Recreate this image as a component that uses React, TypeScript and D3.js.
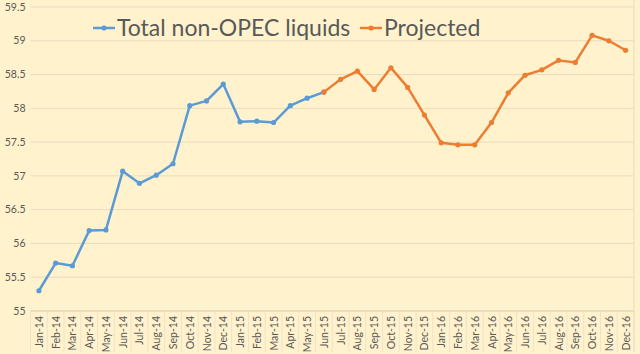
import { useEffect, useRef } from "react";
import * as d3 from "d3";

// Month labels along the x axis
const months = [
  "Jan-14", "Feb-14", "Mar-14", "Apr-14", "May-14", "Jun-14", "Jul-14", "Aug-14", "Sep-14", "Oct-14", "Nov-14", "Dec-14",
  "Jan-15", "Feb-15", "Mar-15", "Apr-15", "May-15", "Jun-15", "Jul-15", "Aug-15", "Sep-15", "Oct-15", "Nov-15", "Dec-15",
  "Jan-16", "Feb-16", "Mar-16", "Apr-16", "May-16", "Jun-16", "Jul-16", "Aug-16", "Sep-16", "Oct-16", "Nov-16", "Dec-16",
];

// Total non-OPEC liquids, Jan-14 .. Jun-15
const nonOpecValues = [
  55.3, 55.71, 55.67, 56.19, 56.2, 57.07, 56.89, 57.01, 57.18, 58.04, 58.11, 58.36,
  57.8, 57.81, 57.79, 58.04, 58.15, 58.24,
];

// Projected, Jun-15 .. Dec-16
const projectedValues = [
  58.24, 58.43, 58.55, 58.28, 58.6, 58.31, 57.9,
  57.49, 57.46, 57.46, 57.79, 58.23, 58.49, 58.57, 58.71, 58.68, 59.08, 59.0, 58.86,
];
const projectedStart = 17;

const yTicks = [55, 55.5, 56, 56.5, 57, 57.5, 58, 58.5, 59, 59.5];

const width = 640;
const height = 354;
const margin = { top: 7, right: 6, bottom: 43, left: 30.5 };
const blue = "#5B9BD5";
const orange = "#ED7D31";
const textColor = "#595959";
const font = "Lato, 'Open Sans', sans-serif";

function Chart() {
  const svgRef = useRef<SVGSVGElement>(null);

  useEffect(() => {
    const svg = d3.select(svgRef.current);
    svg.selectAll("*").remove();

    svg.append("rect").attr("width", width).attr("height", height).attr("fill", "#FFF2CC");

    const x = d3.scaleBand().domain(months).range([margin.left, width - margin.right]).padding(0);
    const cx = (m: string) => (x(m) as number) + x.bandwidth() / 2;
    const y = d3.scaleLinear().domain([55, 59.5]).range([height - margin.bottom, margin.top]);

    // gridlines
    svg.append("g")
      .selectAll("line")
      .data(yTicks)
      .enter()
      .append("line")
      .attr("x1", margin.left)
      .attr("x2", width - margin.right)
      .attr("y1", (d) => y(d))
      .attr("y2", (d) => y(d))
      .attr("stroke", "#E8DCC0")
      .attr("stroke-width", 1);

    // right edge of the plot area
    svg.append("line")
      .attr("x1", width - margin.right).attr("x2", width - margin.right)
      .attr("y1", 0).attr("y2", height - 2)
      .attr("stroke", "#E8DCC0");

    // y axis labels
    svg.append("g")
      .selectAll("text")
      .data(yTicks)
      .enter()
      .append("text")
      .attr("x", margin.left - 5)
      .attr("y", (d) => y(d))
      .attr("dy", "0.35em")
      .attr("text-anchor", "end")
      .attr("font-family", font)
      .attr("font-size", 10.5)
      .attr("fill", textColor)
      .text((d) => d3.format("")(d));

    // x axis line + tick marks between categories
    const base = y(55);
    svg.append("line")
      .attr("x1", margin.left).attr("x2", width - margin.right)
      .attr("y1", base).attr("y2", base)
      .attr("stroke", "#E0D4B8");
    svg.append("g")
      .selectAll("line")
      .data(months.concat(["end"]))
      .enter()
      .append("line")
      .attr("x1", (_, i) => margin.left + i * x.bandwidth())
      .attr("x2", (_, i) => margin.left + i * x.bandwidth())
      .attr("y1", base)
      .attr("y2", height - 2)
      .attr("stroke", "#EFE3C8");

    // x axis labels, rotated
    svg.append("g")
      .selectAll("text")
      .data(months)
      .enter()
      .append("text")
      .attr("transform", (d) => `translate(${cx(d) + 4},${base + 5}) rotate(-90)`)
      .attr("text-anchor", "end")
      .attr("font-family", font)
      .attr("font-size", 10.5)
      .attr("fill", textColor)
      .text((d) => d);

    const line = d3.line<[string, number]>()
      .x((d) => cx(d[0]))
      .y((d) => y(d[1]));

    const series = [
      { color: blue, pts: nonOpecValues.map((v, i) => [months[i], v] as [string, number]) },
      { color: orange, pts: projectedValues.map((v, i) => [months[projectedStart + i], v] as [string, number]) },
    ];

    series.forEach((s) => {
      svg.append("path")
        .attr("d", line(s.pts))
        .attr("fill", "none")
        .attr("stroke", s.color)
        .attr("stroke-width", 2.5)
        .attr("stroke-linejoin", "round");
      svg.append("g")
        .selectAll("circle")
        .data(s.pts)
        .enter()
        .append("circle")
        .attr("cx", (d) => cx(d[0]))
        .attr("cy", (d) => y(d[1]))
        .attr("r", 2.6)
        .attr("fill", s.color);
    });

    // legend
    const legend = [
      { label: "Total non-OPEC liquids", color: blue, x: 93 },
      { label: "Projected", color: orange, x: 360 },
    ];
    legend.forEach((l) => {
      const g = svg.append("g").attr("transform", `translate(${l.x},28)`);
      g.append("line").attr("x1", 0).attr("x2", 22).attr("stroke", l.color).attr("stroke-width", 2.5);
      g.append("circle").attr("cx", 11).attr("r", 2.6).attr("fill", l.color);
      g.append("text")
        .attr("x", 24)
        .attr("dy", "0.35em")
        .attr("font-family", font)
        .attr("font-size", 23)
        .attr("fill", textColor)
        .text(l.label);
    });
  }, []);

  return <svg ref={svgRef} width={width} height={height} style={{ position: "absolute", left: 0, top: 0 }} />;
}

export default function App() {
  return <Chart />;
}
